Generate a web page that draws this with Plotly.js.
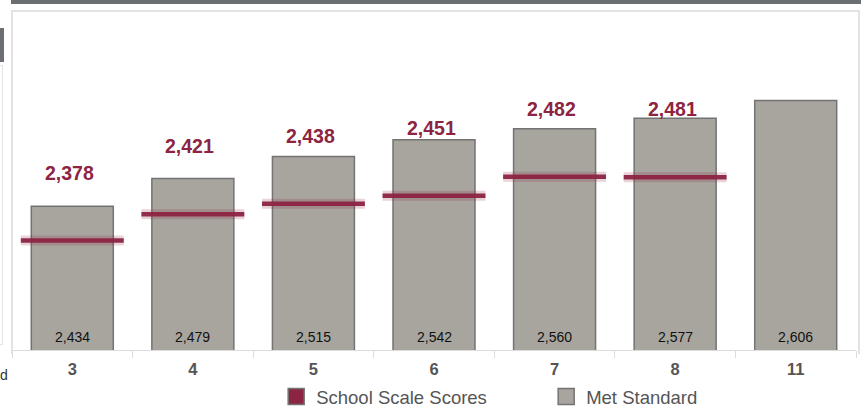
<!DOCTYPE html>
<html>
<head>
<meta charset="utf-8">
<script src="https://cdn.plot.ly/plotly-3.0.1.min.js"></script>
<style>
  html, body { margin:0; padding:0; background:#fff; width:861px; height:410px; overflow:hidden; font-family:"Liberation Sans", Arial, sans-serif; }
  #topbar { position:absolute; left:11px; top:0; width:850px; height:4px; background:#6b6e72; }
  #leftblock { position:absolute; left:0; top:28px; width:4px; height:34px; background:#6b6e72; }
  #leftbox { position:absolute; left:-2px; top:65px; width:4px; height:278px; border:1px solid #e4e4e4; border-left:none; }
  #panel { position:absolute; left:11px; top:10px; width:845px; height:342px; border:2px solid #e3e3e3; border-bottom:none; }
  #dtext { position:absolute; left:0px; top:367px; font-size:14px; color:#333; white-space:nowrap; }
  #chart { position:absolute; left:0; top:0; width:861px; height:410px; }
</style>
</head>
<body>
<div id="topbar"></div>
<div id="leftblock"></div>
<div id="leftbox"></div>
<div id="panel"></div>
<div id="dtext">d</div>
<div id="chart"></div>
<script>
const grades = ['3', '4', '5', '6', '7', '8', '11'];
const metStandard = [2434, 2479, 2515, 2542, 2560, 2577, 2606];
const schoolScores = [2378, 2421, 2438, 2451, 2482, 2481, null];

const RED = '#8c2442';
const GRAY = '#a8a59e';
const OUTLINE = '#737373';
const FONT = 'Liberation Sans, Arial, sans-serif';

const fmt = v => v.toLocaleString('en-US');

const traces = [
  {
    type: 'bar', x: grades, y: metStandard, width: 0.68,
    marker: { color: GRAY, line: { color: OUTLINE, width: 1.5 } },
    hoverinfo: 'skip', showlegend: false
  },
  {
    type: 'scatter', mode: 'markers', x: grades, y: schoolScores, cliponaxis: false,
    marker: { symbol: 'line-ew', size: 73.5, color: RED, line: { color: 'rgba(140,36,66,0.2)', width: 10 } },
    hoverinfo: 'skip', showlegend: false
  },
  {
    type: 'scatter', mode: 'markers', x: grades, y: schoolScores, cliponaxis: false,
    marker: { symbol: 'line-ew', size: 73.5, color: RED, line: { color: 'rgba(140,36,66,0.95)', width: 4.5 } },
    hoverinfo: 'skip', showlegend: false
  },
  {
    type: 'scatter', mode: 'markers', x: [null], y: [null], name: 'School Scale Scores',
    marker: { symbol: 'square', size: 16, color: RED, line: { color: OUTLINE, width: 1.5 } }
  },
  {
    type: 'scatter', mode: 'markers', x: [null], y: [null], name: 'Met Standard',
    marker: { symbol: 'square', size: 16, color: GRAY, line: { color: OUTLINE, width: 1.5 } }
  }
];

const scoreLabels = grades.map((g, i) => schoolScores[i] == null ? null : ({
  x: i, y: schoolScores[i], xref: 'x', yref: 'y',
  text: fmt(schoolScores[i]), showarrow: false,
  yanchor: 'middle', yshift: 68, xshift: -3,
  font: { family: FONT, size: 19.5, color: RED, weight: 'bold' }
})).filter(a => a);

const barLabels = grades.map((g, i) => ({
  x: i, y: 0, xref: 'x', yref: 'paper',
  text: fmt(metStandard[i]), showarrow: false,
  yanchor: 'bottom', yshift: 3,
  font: { family: FONT, size: 14, color: '#111' }
}));

const layout = {
  width: 861, height: 410,
  margin: { l: 12, r: 5, t: 12, b: 60, autoexpand: false },
  paper_bgcolor: 'rgba(0,0,0,0)', plot_bgcolor: 'rgba(0,0,0,0)',
  showlegend: true,
  legend: {
    orientation: 'h', x: 0.313, xanchor: 'left', y: -0.139, yanchor: 'middle',
    font: { family: FONT, size: 18.5, color: '#555' },
    entrywidth: 225, entrywidthmode: 'pixels', itemsizing: 'trace'
  },
  xaxis: {
    type: 'category', range: [-0.5, 6.5],
    showline: true, linecolor: '#dcdcdc', linewidth: 1,
    ticks: 'outside', tickson: 'boundaries', ticklen: 7, tickcolor: '#dcdcdc',
    ticklabelstandoff: 4,
    tickfont: { family: FONT, size: 16.5, color: '#555', weight: 'bold' },
    showgrid: false, zeroline: false, fixedrange: true
  },
  yaxis: {
    range: [2200, 2750], showgrid: false, zeroline: false,
    showticklabels: false, ticks: '', showline: false, fixedrange: true
  },
  annotations: scoreLabels.concat(barLabels),
  bargap: 0.32
};

Plotly.newPlot('chart', traces, layout, { displayModeBar: false, staticPlot: true });
</script>
</body>
</html>
